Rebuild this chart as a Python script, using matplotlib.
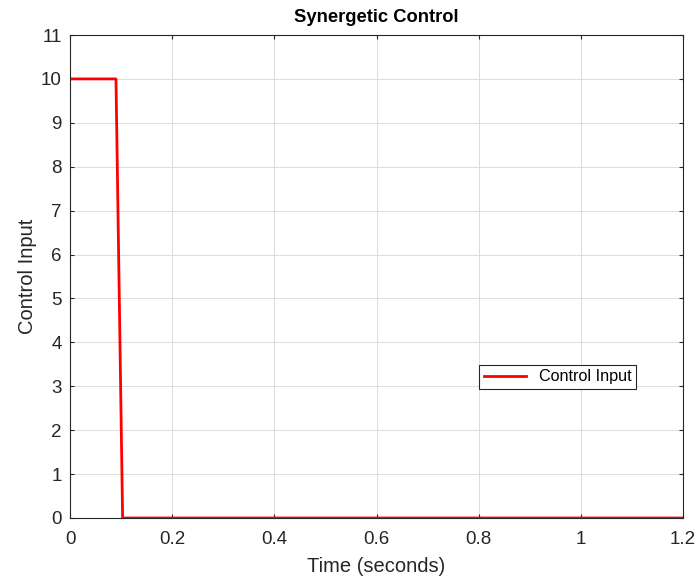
import numpy as np
import matplotlib.pyplot as plt

plt.rcParams['font.family'] = ['Liberation Sans', 'DejaVu Sans']

# control input signal (seconds, value)
time = [0.0, 0.09, 0.103, 1.2]
control = [10, 10, 0, 0]

fig = plt.figure(figsize=(6.99, 5.83), dpi=100)
ax = fig.add_axes([70 / 699, 65 / 583, 613 / 699, 483 / 583])

ax.plot(time, control, color='#ff0000', lw=2, label='Control Input')

ax.set_xlim(0, 1.2)
ax.set_ylim(0, 11)
ax.set_xticks(np.arange(0, 1.21, 0.2))
ax.set_xticklabels(['0', '0.2', '0.4', '0.6', '0.8', '1', '1.2'])
ax.set_yticks(np.arange(0, 12, 1))

ax.grid(True, color='#dcdcdc', lw=0.7)
ax.set_axisbelow(True)
ax.tick_params(direction='in', length=3, labelsize=13.5, colors='#262626',
               top=True, right=True, labeltop=False, labelright=False)
ax.tick_params(axis='x', pad=9)
ax.tick_params(axis='y', pad=6)
for s in ax.spines.values():
    s.set_color('#262626')
    s.set_linewidth(0.8)

ax.set_xlabel('Time (seconds)', fontsize=14.5, color='#262626', labelpad=7)
ax.set_ylabel('Control Input', fontsize=14.5, color='#262626', labelpad=3)
ax.set_title('Synergetic Control', fontsize=13.2, fontweight='bold', color='#000000', pad=9)

leg = ax.legend(loc='center', bbox_to_anchor=(0.796, 0.292), fontsize=11.6,
                fancybox=False, framealpha=1, edgecolor='#262626',
                handlelength=2.6, borderpad=0.3)
leg.get_frame().set_linewidth(0.8)

plt.savefig('out.png', dpi=100)
